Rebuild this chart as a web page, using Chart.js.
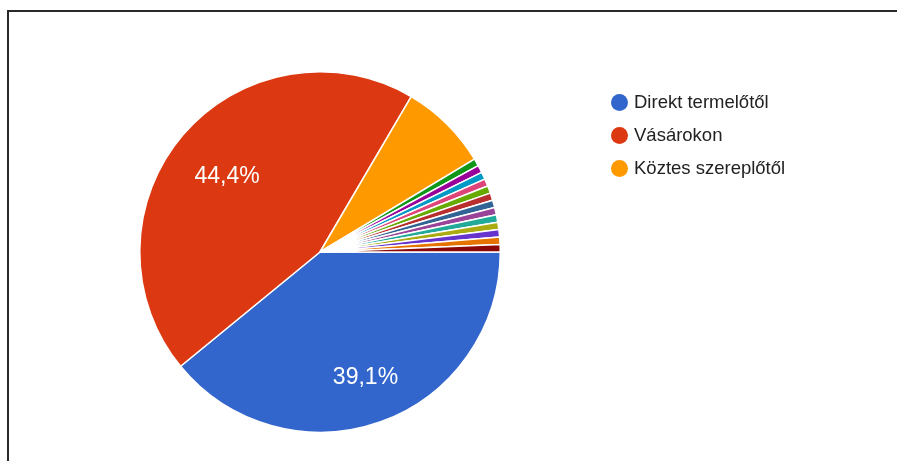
<!DOCTYPE html>
<html>
<head>
<meta charset="utf-8">
<script src="https://cdn.jsdelivr.net/npm/chart.js@4"></script>
<style>
  html, body { margin: 0; padding: 0; background: #fff; overflow: hidden; }
  body { width: 897px; height: 461px; position: relative; font-family: "Liberation Sans", Arial, sans-serif; }
  #frame { position: absolute; left: 7px; top: 10px; width: 900px; height: 470px; border: 2px solid #2a2a2a; box-sizing: border-box; }
  #wrap { position: absolute; left: 0; top: 0; width: 897px; height: 461px; }
  #legend { position: absolute; left: 611px; top: 0; }
  .item { position: absolute; left: 0; white-space: nowrap; height: 20px; }
  .dot { position: absolute; left: 0; top: 1px; width: 17px; height: 17px; border-radius: 50%; }
  .txt { position: absolute; left: 23px; top: -1px; font-size: 18.5px; line-height: 20px; color: #222; }
</style>
</head>
<body>
<div id="frame"></div>
<div id="wrap"><canvas id="c" width="897" height="461"></canvas></div>
<div id="legend"></div>
<script>
const labels = [
  "Direkt termelőtől", "Vásárokon", "Köztes szereplőtől",
  "Egyéb 1", "Egyéb 2", "Egyéb 3", "Egyéb 4", "Egyéb 5", "Egyéb 6", "Egyéb 7",
  "Egyéb 8", "Egyéb 9", "Egyéb 10", "Egyéb 11", "Egyéb 12", "Egyéb 13"
];
const values = [59, 67, 12, 1, 1, 1, 1, 1, 1, 1, 1, 1, 1, 1, 1, 1];
const colors = [
  "#3366cc", "#dc3912", "#ff9900", "#109618", "#990099", "#0099c6", "#dd4477",
  "#66aa00", "#b82e2e", "#316395", "#994499", "#22aa99", "#aaaa11", "#6633cc",
  "#e67300", "#8b0707"
];
const legendCount = 3;

const total = values.reduce((a, b) => a + b, 0);

const pctLabels = {
  id: 'pctLabels',
  afterDatasetsDraw(chart) {
    const ctx = chart.ctx;
    const meta = chart.getDatasetMeta(0);
    ctx.save();
    ctx.fillStyle = '#ffffff';
    ctx.font = '23px "Liberation Sans", Arial, sans-serif';
    ctx.textAlign = 'center';
    ctx.textBaseline = 'middle';
    meta.data.forEach((arc, i) => {
      const pct = values[i] / total * 100;
      if (pct < 10) return;
      const p = arc.getProps(['x', 'y', 'startAngle', 'endAngle', 'outerRadius'], true);
      const mid = (p.startAngle + p.endAngle) / 2;
      const r = p.outerRadius * 0.7;
      const x = p.x + Math.cos(mid) * r + 3;
      const y = p.y + Math.sin(mid) * r + 7;
      ctx.fillText(pct.toFixed(1).replace('.', ',') + '%', x, y);
    });
    ctx.restore();
  }
};

new Chart(document.getElementById('c'), {
  type: 'pie',
  data: {
    labels: labels,
    datasets: [{
      data: values,
      backgroundColor: colors,
      borderColor: '#ffffff',
      borderWidth: 1.5
    }]
  },
  options: {
    responsive: false,
    animation: false,
    rotation: 90,
    layout: { padding: { left: 139, top: 71, right: 396, bottom: 28 } },
    plugins: {
      legend: { display: false },
      tooltip: { enabled: false }
    }
  },
  plugins: [pctLabels]
});

const legend = document.getElementById('legend');
const rowsY = [93, 126, 159];
for (let i = 0; i < legendCount; i++) {
  const item = document.createElement('div');
  item.className = 'item';
  item.style.top = rowsY[i] + 'px';
  const dot = document.createElement('div');
  dot.className = 'dot';
  dot.style.background = colors[i];
  const txt = document.createElement('span');
  txt.className = 'txt';
  txt.textContent = labels[i];
  item.appendChild(dot);
  item.appendChild(txt);
  legend.appendChild(item);
}
</script>
</body>
</html>
